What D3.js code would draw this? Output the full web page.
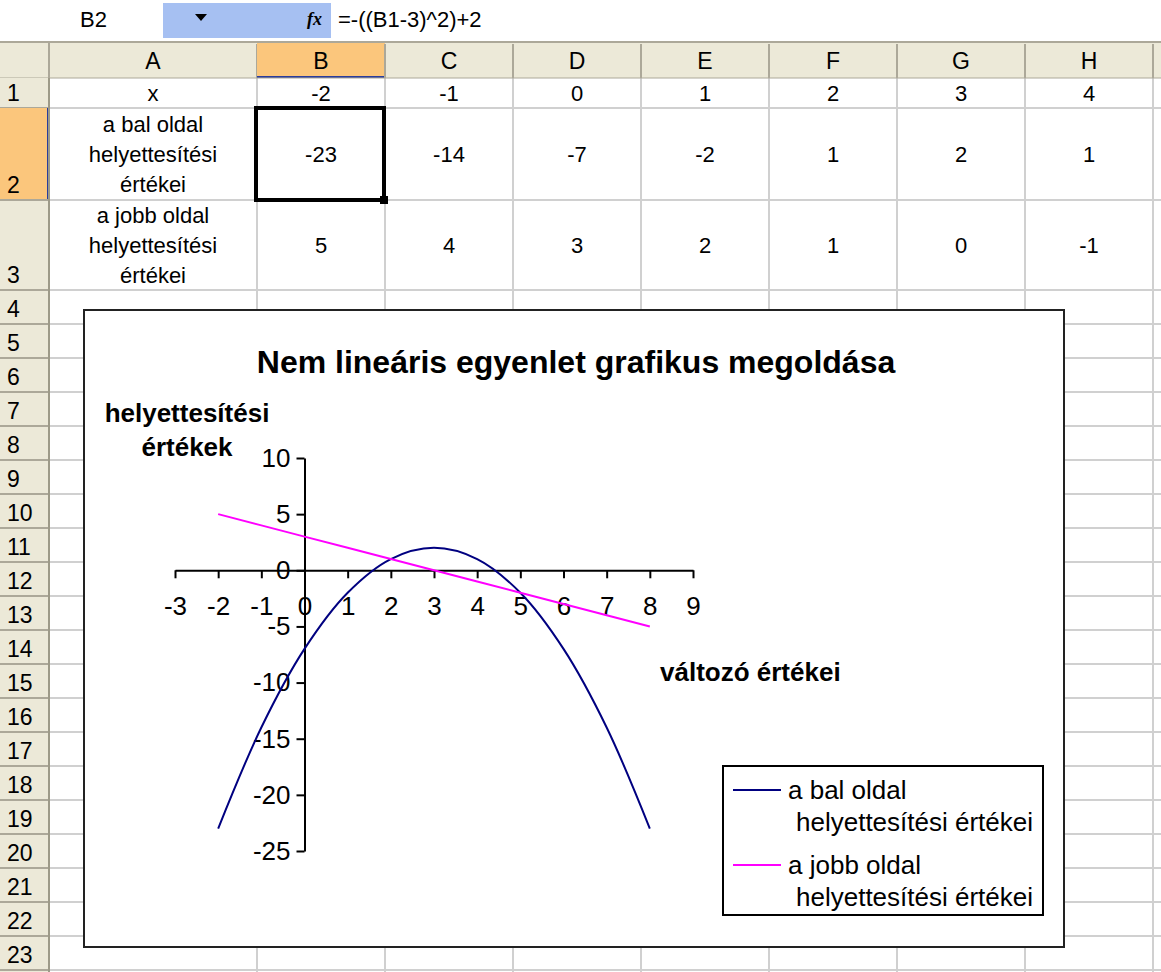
<!DOCTYPE html>
<html>
<head>
<meta charset="utf-8">
<script src="https://cdn.jsdelivr.net/npm/d3@7"></script>
<style>
  html, body { margin: 0; padding: 0; background: #fff; }
  svg { display: block; font-family: "Liberation Sans", Arial, sans-serif; }
</style>
</head>
<body>
<svg id="sheet" width="1161" height="972"></svg>
<script>
// ---- data ----
const xValues   = [-2, -1, 0, 1, 2, 3, 4, 5, 6, 7, 8];
const leftSide  = [-23, -14, -7, -2, 1, 2, 1, -2, -7, -14, -23];   // -((x-3)^2)+2
const rightSide = [5, 4, 3, 2, 1, 0, -1, -2, -3, -4, -5];           // 3-x
const xTicks = [-3, -2, -1, 0, 1, 2, 3, 4, 5, 6, 7, 8, 9];
const yTicks = [10, 5, 0, -5, -10, -15, -20, -25];
const seriesNames = ["a bal oldal helyettesítési értékei", "a jobb oldal helyettesítési értékei"];
const columnLetters = ["A", "B", "C", "D", "E", "F", "G", "H", "I"];
const rowLabels = [["x"], ["a bal oldal", "helyettesítési", "értékei"], ["a jobb oldal", "helyettesítési", "értékei"]];
const visibleCols = 7; // B..H hold the first seven x values
const chartTitle = "Nem lineáris egyenlet grafikus megoldása";
const yTitle = ["helyettesítési", "értékek"];
const xTitle = "változó értékei";
const formula = "=-((B1-3)^2)+2";
const activeCell = "B2";

const svg = d3.select("#sheet");
const W = 1161, H = 972;

// ---- worksheet geometry ----
const colEdges = [49, 257, 385, 513, 641, 769, 897, 1025, 1153, 1281];
const headTop = 42, headBottom = 78;
const rowEdges = [78, 108, 200, 290];
for (let i = 0; i < 20; i++) rowEdges.push(290 + 34 * (i + 1));

const headerFill = "#ECE9D8", headerLine = "#ACA899", gridLine = "#D0D0D0";
const selFill = "#FBC67C", selLine = "#2A3D9C";

// formula bar
const fb = svg.append("g");
fb.append("rect").attr("x", 0).attr("y", 0).attr("width", W).attr("height", headTop).attr("fill", "#fff");
fb.append("rect").attr("x", 163).attr("y", 3).attr("width", 168).attr("height", 35).attr("fill", "#A6C0F2");
fb.append("text").attr("x", 80).attr("y", 27).attr("font-size", 22).text(activeCell);
fb.append("path").attr("d", "M195,14 L207,14 L201,21 Z").attr("fill", "#000");
fb.append("text").attr("x", 307).attr("y", 25).attr("font-size", 18).attr("font-style", "italic")
  .attr("font-weight", "bold").attr("font-family", "'Liberation Serif', serif").text("fx");
fb.append("text").attr("x", 338).attr("y", 27).attr("font-size", 22).text(formula);

// cell area background + grid
const grid = svg.append("g");
grid.append("rect").attr("x", colEdges[0]).attr("y", headBottom).attr("width", W - colEdges[0]).attr("height", H - headBottom).attr("fill", "#fff");
colEdges.slice(1).forEach(x => grid.append("line").attr("x1", x).attr("x2", x).attr("y1", headBottom).attr("y2", H).attr("stroke", gridLine).attr("stroke-width", 2));
rowEdges.slice(1).forEach(y => grid.append("line").attr("x1", colEdges[0]).attr("x2", W).attr("y1", y).attr("y2", y).attr("stroke", gridLine).attr("stroke-width", 2));

// column headers (the last column only peeks in at the window edge, so its letter stays hidden)
const ch = svg.append("g");
ch.append("rect").attr("x", 0).attr("y", headTop).attr("width", W).attr("height", headBottom - headTop).attr("fill", headerFill);
columnLetters.forEach((c, i) => {
  const x0 = colEdges[i], x1 = colEdges[i + 1];
  if (c === "B") {
    ch.append("rect").attr("x", x0).attr("y", headTop).attr("width", x1 - x0).attr("height", headBottom - headTop).attr("fill", selFill);
    ch.append("line").attr("x1", x0).attr("x2", x1).attr("y1", headBottom - 1).attr("y2", headBottom - 1).attr("stroke", selLine).attr("stroke-width", 2);
  }
  ch.append("line").attr("x1", x1).attr("x2", x1).attr("y1", headTop + 2).attr("y2", headBottom).attr("stroke", headerLine).attr("stroke-width", 2);
  if (x1 <= W) ch.append("text").attr("x", (x0 + x1) / 2).attr("y", 69).attr("text-anchor", "middle").attr("font-size", 23).text(c);
});
ch.append("line").attr("x1", colEdges[0]).attr("x2", colEdges[0]).attr("y1", headTop).attr("y2", headBottom).attr("stroke", headerLine).attr("stroke-width", 2);
ch.append("line").attr("x1", 0).attr("x2", W).attr("y1", headTop).attr("y2", headTop).attr("stroke", headerLine).attr("stroke-width", 2);
ch.append("line").attr("x1", 0).attr("x2", W).attr("y1", headBottom).attr("y2", headBottom).attr("stroke", headerLine).attr("stroke-width", 1);

// row headers
const rh = svg.append("g");
rh.append("rect").attr("x", 0).attr("y", headBottom).attr("width", colEdges[0]).attr("height", H - headBottom).attr("fill", headerFill);
for (let r = 0; r < rowEdges.length - 1; r++) {
  const y0 = rowEdges[r], y1 = rowEdges[r + 1];
  if (r === 1) {
    rh.append("rect").attr("x", 0).attr("y", y0).attr("width", colEdges[0]).attr("height", y1 - y0).attr("fill", selFill);
    rh.append("line").attr("x1", colEdges[0] - 1).attr("x2", colEdges[0] - 1).attr("y1", y0).attr("y2", y1).attr("stroke", selLine).attr("stroke-width", 2);
  }
  rh.append("line").attr("x1", 0).attr("x2", colEdges[0]).attr("y1", y1).attr("y2", y1).attr("stroke", headerLine).attr("stroke-width", 2);
  rh.append("text").attr("x", 7).attr("y", y1 - 7).attr("font-size", 23).text(r + 1);
}
rh.append("line").attr("x1", colEdges[0]).attr("x2", colEdges[0]).attr("y1", headBottom).attr("y2", H).attr("stroke", "#9D9A88").attr("stroke-width", 2);

// table contents
const cells = svg.append("g").attr("font-size", 22).attr("text-anchor", "middle");
const tableRows = [xValues, leftSide, rightSide];
tableRows.forEach((vals, r) => {
  const y0 = rowEdges[r], y1 = rowEdges[r + 1], cy = (y0 + y1) / 2;
  const lines = rowLabels[r];
  lines.forEach((t, k) => {
    cells.append("text").attr("x", (colEdges[0] + colEdges[1]) / 2)
      .attr("y", cy + (k - (lines.length - 1) / 2) * 30 + 8).text(t);
  });
  vals.slice(0, visibleCols).forEach((v, i) => {
    cells.append("text").attr("x", (colEdges[i + 1] + colEdges[i + 2]) / 2).attr("y", cy + 8).text(v);
  });
});
// active cell outline
svg.append("rect").attr("x", colEdges[1] - 1).attr("y", rowEdges[1]).attr("width", colEdges[2] - colEdges[1]).attr("height", rowEdges[2] - rowEdges[1])
  .attr("fill", "none").attr("stroke", "#000").attr("stroke-width", 4);
svg.append("rect").attr("x", colEdges[2] - 5).attr("y", rowEdges[2] - 4).attr("width", 8).attr("height", 8).attr("fill", "#000");

// ---- chart object ----
const chart = svg.append("g");
chart.append("rect").attr("x", 84).attr("y", 310).attr("width", 980).attr("height", 637)
  .attr("fill", "#fff").attr("stroke", "#222").attr("stroke-width", 2);

chart.append("text").attr("x", 576).attr("y", 373).attr("text-anchor", "middle")
  .attr("font-size", 32).attr("font-weight", "bold").text(chartTitle);

yTitle.forEach((t, k) => chart.append("text").attr("x", 187).attr("y", 422 + k * 34)
  .attr("text-anchor", "middle").attr("font-size", 26).attr("font-weight", "bold").text(t));
chart.append("text").attr("x", 660).attr("y", 681).attr("font-size", 26).attr("font-weight", "bold").text(xTitle);

const x = d3.scaleLinear().domain([-3, 9]).range([175, 693]);
const y = d3.scaleLinear().domain([-25, 10]).range([851, 458]);

const plain = d => String(d); // hyphen-minus, as the sheet shows it
const xAxis = chart.append("g").attr("transform", `translate(0,${y(0)})`)
  .call(d3.axisBottom(x).tickValues(xTicks).tickSize(8).tickSizeOuter(0).tickPadding(18).tickFormat(plain));
const yAxis = chart.append("g").attr("transform", `translate(${x(0)},0)`)
  .call(d3.axisLeft(y).tickValues(yTicks).tickSize(8).tickSizeOuter(0).tickPadding(6).tickFormat(plain));
[xAxis, yAxis].forEach(a => {
  a.selectAll("path.domain, .tick line").attr("stroke", "#000").attr("stroke-width", 2);
  a.selectAll("text").attr("font-size", 26).attr("font-family", "'Liberation Sans', Arial, sans-serif").attr("fill", "#000");
});
// the plain line stays straight; the parabola is drawn with smoothing
const pts = s => xValues.map((v, i) => [v, s[i]]);
const lineStraight = d3.line().x(d => x(d[0])).y(d => y(d[1]));
const lineSmooth = d3.line().x(d => x(d[0])).y(d => y(d[1])).curve(d3.curveCatmullRom.alpha(0.5));
const colors = ["#000080", "#FF00FF"];
chart.append("path").datum(pts(leftSide)).attr("d", lineSmooth).attr("fill", "none").attr("stroke", colors[0]).attr("stroke-width", 2);
chart.append("path").datum(pts(rightSide)).attr("d", lineStraight).attr("fill", "none").attr("stroke", colors[1]).attr("stroke-width", 2);

// legend
const lg = chart.append("g");
lg.append("rect").attr("x", 723).attr("y", 766).attr("width", 320).attr("height", 149)
  .attr("fill", "#fff").attr("stroke", "#000").attr("stroke-width", 2);
seriesNames.forEach((name, i) => {
  const cy = 790 + i * 75;
  const words = name.split(" ");
  lg.append("line").attr("x1", 733).attr("x2", 781).attr("y1", cy).attr("y2", cy).attr("stroke", colors[i]).attr("stroke-width", 2);
  lg.append("text").attr("x", 788).attr("y", cy + 9).attr("font-size", 26).text(words.slice(0, words.length - 2).join(" "));
  lg.append("text").attr("x", 796).attr("y", cy + 41).attr("font-size", 26).text(words.slice(-2).join(" "));
});
</script>
</body>
</html>
